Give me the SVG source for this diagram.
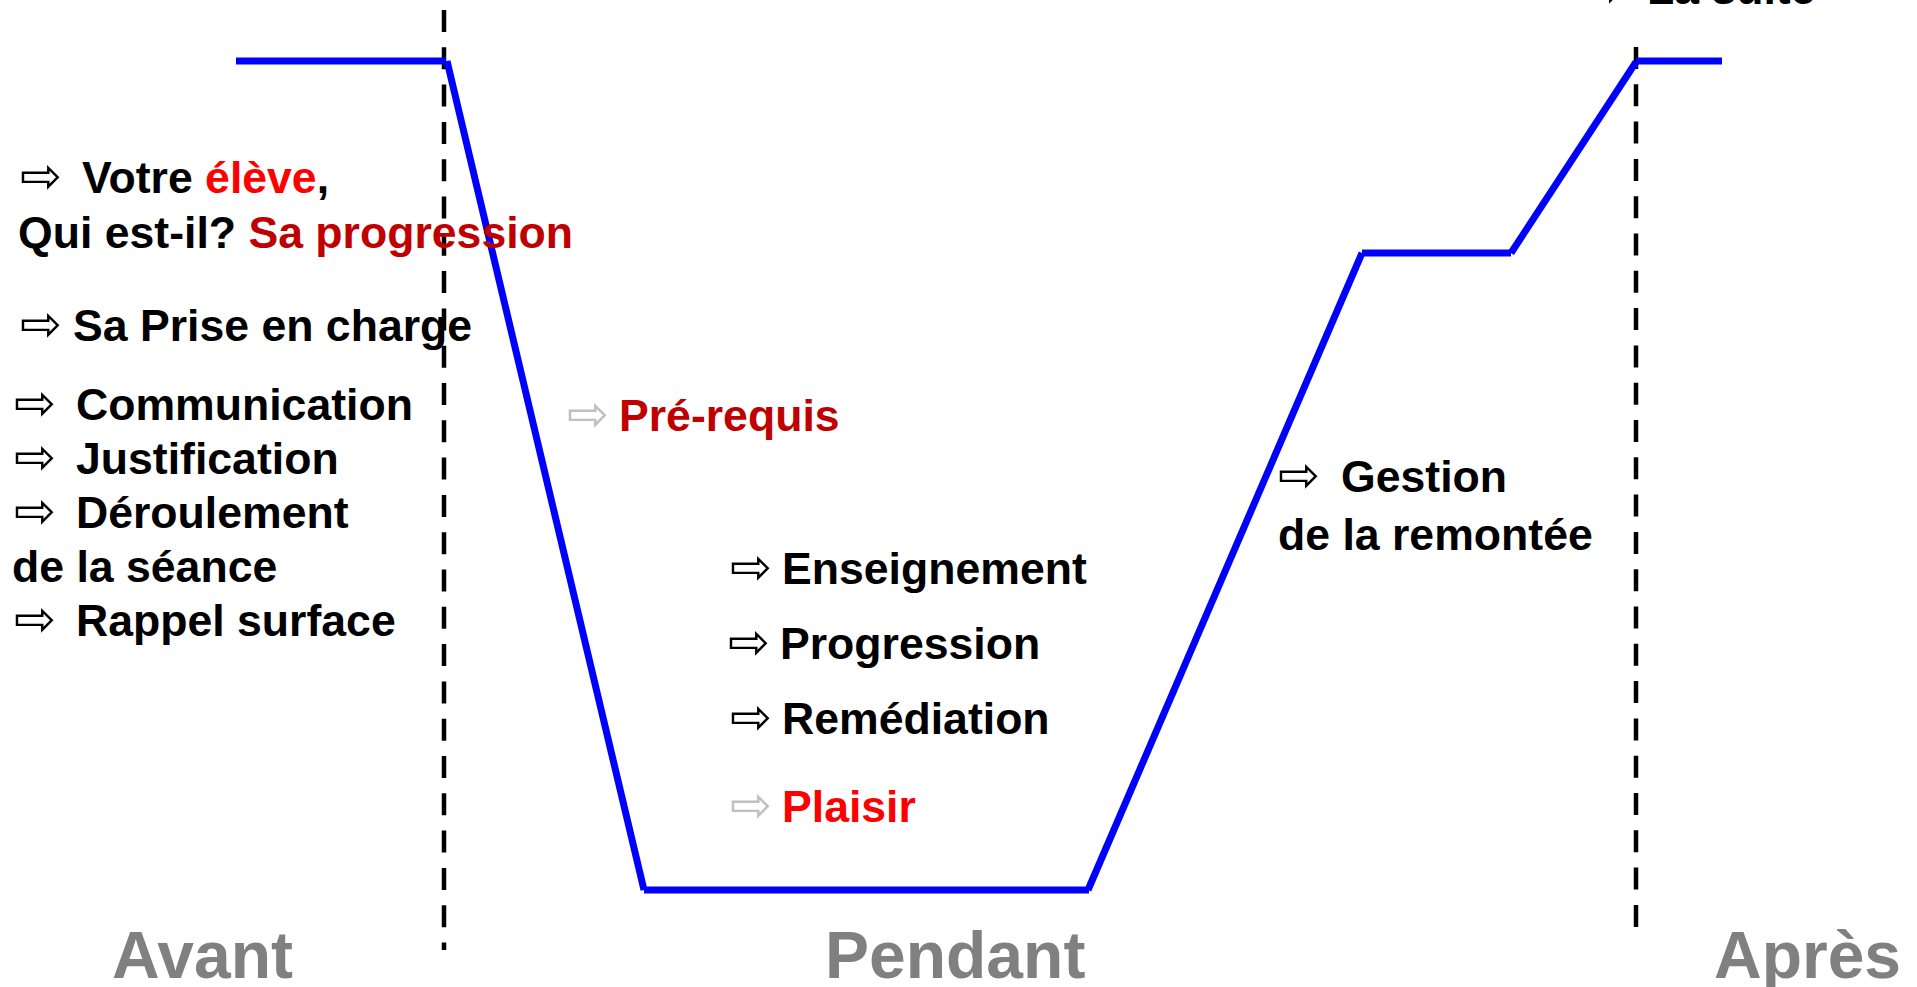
<svg xmlns="http://www.w3.org/2000/svg" width="1917" height="987" viewBox="0 0 1917 987">
<style>
.t{font-family:"Liberation Sans",Arial,sans-serif;font-weight:bold;font-size:44.6px;fill:#000}
.ar{font-family:"DejaVu Sans",sans-serif;font-size:50px;fill:#000}
.ag{font-family:"DejaVu Sans",sans-serif;font-size:50px;fill:#c0c0c0}
.lbl{font-family:"Liberation Sans",Arial,sans-serif;font-weight:bold;font-size:66px;fill:#808080}
.red{fill:#ff0000}
.dred{fill:#c00000}
.blue{stroke:#0000ff;stroke-width:7;fill:none}
.dash{stroke:#000;stroke-width:4.5;stroke-dasharray:22 15.3;fill:none}
</style>
<rect width="1917" height="987" fill="#fff"/>
<g id="connectors">
<line class="dash" x1="444" y1="10" x2="444" y2="950"/>
<line class="dash" x1="1636" y1="47" x2="1636" y2="927"/>
<line class="blue" x1="236" y1="61" x2="446" y2="61"/>
<line class="blue" x1="447" y1="61" x2="644" y2="890"/>
<line class="blue" x1="644" y1="890" x2="1089" y2="890"/>
<line class="blue" x1="1088" y1="890" x2="1362" y2="253"/>
<line class="blue" x1="1362" y1="253" x2="1511" y2="253"/>
<line class="blue" x1="1511" y1="253" x2="1636" y2="62"/>
<line class="blue" x1="1636" y1="61" x2="1722" y2="61"/>
</g>
<g id="la-suite">
<text class="ar" x="1582" y="7">⇨</text>
<text class="t" x="1647" y="4">La suite</text>
</g>
<g id="eleve">
<text class="ar" x="20" y="193">⇨</text>
<text class="t" x="82" y="193">Votre <tspan class="red">élève</tspan>,</text>
<text class="t" x="18" y="248">Qui est-il? <tspan class="dred">Sa progression</tspan></text>
</g>
<g id="prise-en-charge">
<text class="ar" x="20" y="341">⇨</text>
<text class="t" x="73" y="341">Sa Prise en charge</text>
</g>
<g id="avant-list">
<text class="ar" x="14" y="420">⇨</text>
<text class="t" x="76" y="420">Communication</text>
<text class="ar" x="14" y="474">⇨</text>
<text class="t" x="76" y="474">Justification</text>
<text class="ar" x="14" y="528">⇨</text>
<text class="t" x="76" y="528">Déroulement</text>
<text class="t" x="12" y="582">de la séance</text>
<text class="ar" x="14" y="636">⇨</text>
<text class="t" x="76" y="636">Rappel surface</text>
</g>
<g id="prerequis">
<text class="ag" x="567" y="431">⇨</text>
<text class="t dred" x="619" y="431">Pré-requis</text>
</g>
<g id="pendant-list">
<text class="ar" x="730" y="584">⇨</text>
<text class="t" x="782" y="584">Enseignement</text>
<text class="ar" x="728" y="659">⇨</text>
<text class="t" x="780" y="659">Progression</text>
<text class="ar" x="730" y="734">⇨</text>
<text class="t" x="782" y="734">Remédiation</text>
<text class="ag" x="730" y="822">⇨</text>
<text class="t red" x="782" y="822">Plaisir</text>
</g>
<g id="remontee">
<text class="ar" x="1278" y="492">⇨</text>
<text class="t" x="1341" y="492">Gestion</text>
<text class="t" x="1278" y="550">de la remontée</text>
</g>
<g id="labels">
<text class="lbl" x="112" y="978">Avant</text>
<text class="lbl" x="825" y="978">Pendant</text>
<text class="lbl" x="1714" y="978">Après</text>
</g>
</svg>
